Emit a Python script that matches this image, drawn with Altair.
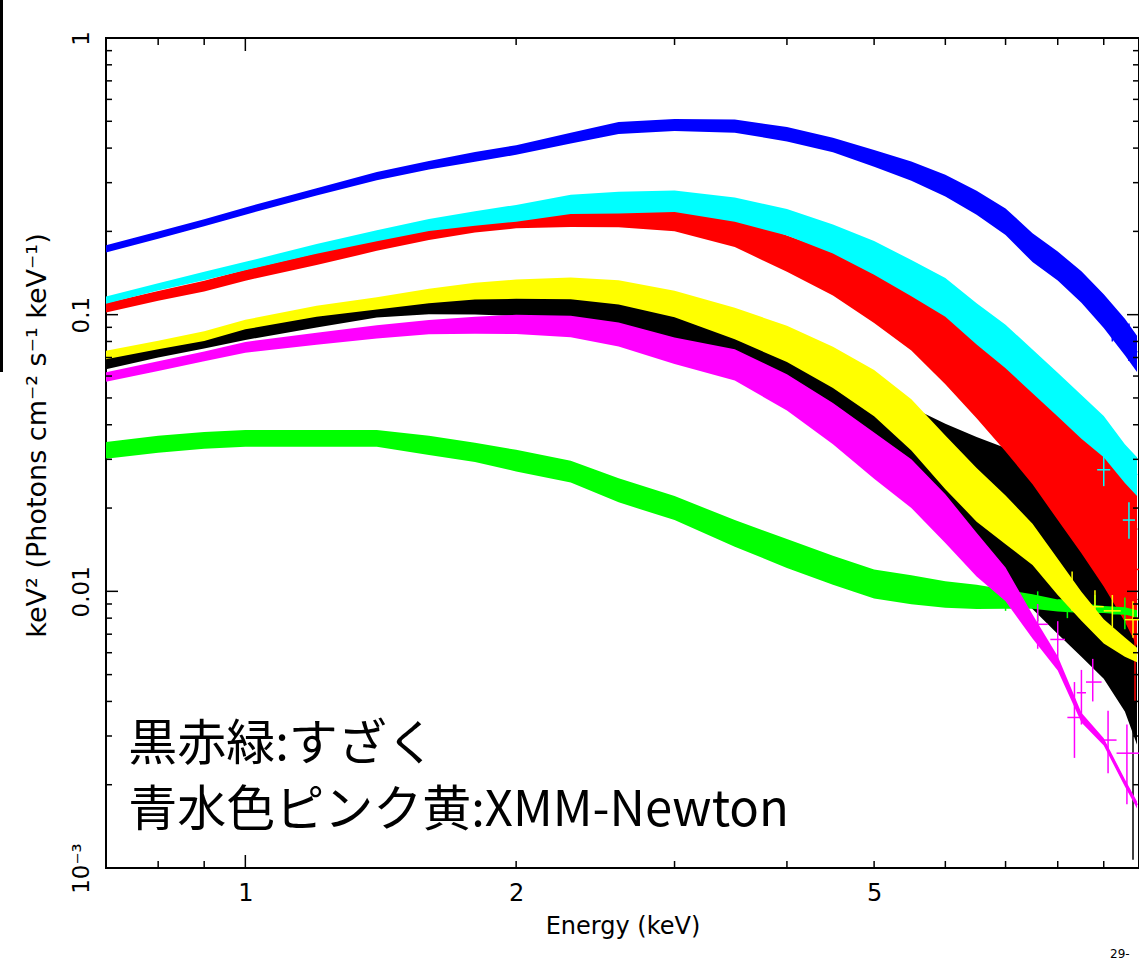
import altair as alt
import pandas as pd

# ---------------- data ----------------
ENERGY = [0.7, 0.8, 0.9, 1.0, 1.2, 1.4, 1.6, 1.8, 2.0, 2.3, 2.6, 3.0, 3.5,
          4.0, 4.5, 5.0, 5.5, 6.0, 6.5, 7.0, 7.5, 8.0, 8.5, 9.0, 9.5, 9.8]

BLACK_FLUX = [0.0675, 0.0745, 0.0802, 0.0862, 0.0957, 0.105, 0.109, 0.110, 0.110, 0.109, 0.103, 0.0914, 0.0802,
              0.0661, 0.0495, 0.0410, 0.0340, 0.0284, 0.0244, 0.0217, 0.0192, 0.0167, 0.0145, 0.0127, 0.0105, 0.0093]
BLACK_ERR = [0.06, 0.06, 0.06, 0.06, 0.06, 0.07, 0.08, 0.09, 0.10, 0.11, 0.12, 0.14, 0.17,
             0.20, 0.25, 0.30, 0.36, 0.42, 0.48, 0.52, 0.55, 0.58, 0.60, 0.62, 0.65, 0.70]

RED_FLUX = [0.106, 0.117, 0.127, 0.139, 0.159, 0.179, 0.198, 0.213, 0.223, 0.228, 0.230, 0.225, 0.202,
            0.168, 0.143, 0.118, 0.099, 0.080, 0.065, 0.0534, 0.0443, 0.0362, 0.0305, 0.0248, 0.0194, 0.0167]
RED_ERR = [0.04, 0.04, 0.045, 0.045, 0.05, 0.05, 0.06, 0.07, 0.08, 0.09, 0.10, 0.11, 0.13,
           0.15, 0.18, 0.21, 0.25, 0.30, 0.35, 0.40, 0.45, 0.50, 0.55, 0.58, 0.60, 0.62]

GREEN_FLUX = [0.0324, 0.0341, 0.0352, 0.0358, 0.0358, 0.0358, 0.0338, 0.0319, 0.0298, 0.0272, 0.0233, 0.0201, 0.0163,
              0.0138, 0.0120, 0.0107, 0.0102, 0.0098, 0.0096, 0.0094, 0.0092, 0.0089, 0.0087, 0.0086, 0.0085, 0.0083]
GREEN_ERR = [0.07, 0.07, 0.07, 0.07, 0.07, 0.07, 0.08, 0.08, 0.09, 0.09, 0.10, 0.10, 0.11,
             0.12, 0.12, 0.12, 0.12, 0.11, 0.10, 0.08, 0.06, 0.05, 0.04, 0.03, 0.03, 0.03]

BLUE_FLUX = [0.173, 0.194, 0.215, 0.237, 0.278, 0.317, 0.347, 0.372, 0.394, 0.435, 0.473, 0.485, 0.481,
             0.450, 0.411, 0.368, 0.331, 0.294, 0.255, 0.218, 0.176, 0.151, 0.127, 0.104, 0.084, 0.073]
BLUE_ERR = [0.03, 0.03, 0.03, 0.03, 0.03, 0.035, 0.035, 0.04, 0.04, 0.045, 0.05, 0.05, 0.055,
            0.06, 0.06, 0.07, 0.08, 0.09, 0.10, 0.11, 0.12, 0.12, 0.13, 0.14, 0.15, 0.15]

CYAN_FLUX = [0.113, 0.126, 0.138, 0.150, 0.173, 0.193, 0.211, 0.223, 0.233, 0.251, 0.255, 0.258, 0.241,
             0.217, 0.189, 0.162, 0.137, 0.117, 0.094, 0.078, 0.0634, 0.0523, 0.0434, 0.0368, 0.0293, 0.0263]
CYAN_ERR = [0.03, 0.03, 0.035, 0.035, 0.04, 0.045, 0.05, 0.06, 0.07, 0.08, 0.09, 0.09, 0.10,
            0.11, 0.12, 0.14, 0.15, 0.16, 0.17, 0.18, 0.18, 0.18, 0.18, 0.17, 0.16, 0.16]

MAGENTA_FLUX = [0.0596, 0.0652, 0.0707, 0.0763, 0.0820, 0.0868, 0.0903, 0.0918, 0.0925, 0.0910, 0.0852, 0.0745, 0.0664,
                0.0530, 0.0410, 0.0315, 0.0250, 0.0187, 0.0138, 0.0107, 0.0075, 0.0055, 0.0035, 0.00286, 0.00203, 0.00169]
MAGENTA_ERR = [0.04, 0.04, 0.04, 0.045, 0.05, 0.055, 0.06, 0.07, 0.08, 0.09, 0.10, 0.11, 0.13,
               0.15, 0.17, 0.19, 0.20, 0.20, 0.18, 0.14, 0.10, 0.06, 0.04, 0.03, 0.03, 0.03]

YELLOW_FLUX = [0.0715, 0.0777, 0.0837, 0.0922, 0.103, 0.110, 0.117, 0.122, 0.124, 0.125, 0.121, 0.110, 0.0937,
               0.0793, 0.0654, 0.0530, 0.0409, 0.0300, 0.0229, 0.0185, 0.0150, 0.0114, 0.0089, 0.0072, 0.0063, 0.0059]
YELLOW_ERR = [0.035, 0.035, 0.04, 0.04, 0.045, 0.05, 0.06, 0.07, 0.08, 0.09, 0.10, 0.11, 0.13,
              0.15, 0.17, 0.19, 0.21, 0.22, 0.22, 0.20, 0.17, 0.15, 0.12, 0.10, 0.08, 0.06]

# sparse high-energy bins (data crosses)
BLACK_TAIL_E = [9.4, 9.7]
BLACK_TAIL_V = [0.0093, 0.0067]
BLACK_TAIL_LO = [0.0045, 0.00107]
BLACK_TAIL_HI = [0.018, 0.0181]
BLACK_TAIL_ELO = [9.3, 9.6]
BLACK_TAIL_EHI = [9.5, 9.8]

RED_TAIL_E = [9.3, 9.75]
RED_TAIL_V = [0.021, 0.012]
RED_TAIL_LO = [0.011, 0.004]
RED_TAIL_HI = [0.036, 0.030]
RED_TAIL_ELO = [9.2, 9.65]
RED_TAIL_EHI = [9.4, 9.85]

GREEN_TAIL_E = [7.0, 7.6, 8.2, 8.8, 9.5]
GREEN_TAIL_V = [0.0097, 0.0088, 0.0093, 0.0085, 0.0083]
GREEN_TAIL_LO = [0.0085, 0.0078, 0.0080, 0.0074, 0.0073]
GREEN_TAIL_HI = [0.0110, 0.0100, 0.0106, 0.0097, 0.0095]
GREEN_TAIL_ELO = [6.85, 7.45, 8.0, 8.6, 9.2]
GREEN_TAIL_EHI = [7.15, 7.75, 8.4, 9.0, 9.8]

BLUE_TAIL_E = [9.2, 9.6]
BLUE_TAIL_V = [0.092, 0.080]
BLUE_TAIL_LO = [0.080, 0.068]
BLUE_TAIL_HI = [0.105, 0.093]
BLUE_TAIL_ELO = [9.1, 9.45]
BLUE_TAIL_EHI = [9.35, 9.75]

CYAN_TAIL_E = [9.0, 9.6]
CYAN_TAIL_V = [0.0275, 0.0181]
CYAN_TAIL_LO = [0.024, 0.0155]
CYAN_TAIL_HI = [0.031, 0.021]
CYAN_TAIL_ELO = [8.85, 9.45]
CYAN_TAIL_EHI = [9.15, 9.75]

MAGENTA_TAIL_E = [7.6, 8.0, 8.35, 8.5, 8.75, 9.1, 9.55]
MAGENTA_TAIL_V = [0.0076, 0.0067, 0.0035, 0.0043, 0.0047, 0.0029, 0.0026]
MAGENTA_TAIL_LO = [0.0062, 0.0057, 0.0025, 0.0033, 0.0040, 0.0022, 0.0017]
MAGENTA_TAIL_HI = [0.0090, 0.0078, 0.0047, 0.0052, 0.0057, 0.0037, 0.0033]
MAGENTA_TAIL_ELO = [7.45, 7.85, 8.2, 8.4, 8.6, 8.95, 9.3]
MAGENTA_TAIL_EHI = [7.8, 8.15, 8.5, 8.6, 8.95, 9.3, 9.85]

YELLOW_TAIL_E = [8.3, 8.8, 9.2, 9.7]
YELLOW_TAIL_V = [0.0101, 0.0088, 0.0085, 0.0079]
YELLOW_TAIL_LO = [0.0085, 0.0077, 0.0074, 0.0068]
YELLOW_TAIL_HI = [0.0118, 0.0101, 0.0097, 0.0092]
YELLOW_TAIL_ELO = [8.15, 8.6, 9.0, 9.5]
YELLOW_TAIL_EHI = [8.45, 9.0, 9.4, 9.85]

X_TICKS_MAJOR = [1.0]
X_TICKS_MINOR = [0.8, 0.9, 2, 3, 4, 5, 6, 7, 8, 9]
X_LABELS = [1, 2, 5]
Y_TICKS_MAJOR = [0.001, 0.01, 0.1, 1.0]
Y_TICKS_MINOR = [0.002, 0.003, 0.004, 0.005, 0.006, 0.007, 0.008, 0.009,
                 0.02, 0.03, 0.04, 0.05, 0.06, 0.07, 0.08, 0.09,
                 0.2, 0.3, 0.4, 0.5, 0.6, 0.7, 0.8, 0.9]

ANNOT_E = [0.741, 0.741]
ANNOT_V = [0.00246, 0.00142]
ANNOT_TEXT = ["黒赤緑:すざく", "青水色ピンク黄:XMM-Newton"]

# ---------------- chart ----------------
W, H = 1033, 830
FONT = "DejaVu Sans"

xscale = alt.Scale(type="log", domain=[0.7, 9.85], nice=False)
yscale = alt.Scale(type="log", domain=[0.001, 1], nice=False)

xaxis = alt.Axis(values=X_LABELS, format="~g", title="Energy (keV)",
                 labelFontSize=24, titleFontSize=24, labelPadding=13, titlePadding=9,
                 labelFlush=False, labelOverlap=False)
yaxis = alt.Axis(values=Y_TICKS_MAJOR, title="keV² (Photons cm⁻² s⁻¹ keV⁻¹)",
                 labelExpr="datum.value < 0.005 ? '10⁻³' : (datum.value > 0.5 ? '1' : (datum.value > 0.05 ? '0.1' : '0.01'))",
                 labelAngle=270, labelAlign="center", labelBaseline="alphabetic",
                 labelFontSize=23, labelPadding=18, labelFlush=False, labelOverlap=False,
                 titleFontSize=27, titleAngle=270, titleAlign="center", titleBaseline="alphabetic",
                 titleX=-61, titleY=397)


def X(f):
    return alt.X(f"{f}:Q", scale=xscale, axis=xaxis)


def Y(f):
    return alt.Y(f"{f}:Q", scale=yscale, axis=yaxis)


series = [
    ("#000000", BLACK_FLUX, BLACK_ERR, BLACK_TAIL_E, BLACK_TAIL_V, BLACK_TAIL_LO, BLACK_TAIL_HI, BLACK_TAIL_ELO, BLACK_TAIL_EHI),
    ("#ff0000", RED_FLUX, RED_ERR, RED_TAIL_E, RED_TAIL_V, RED_TAIL_LO, RED_TAIL_HI, RED_TAIL_ELO, RED_TAIL_EHI),
    ("#00ff00", GREEN_FLUX, GREEN_ERR, GREEN_TAIL_E, GREEN_TAIL_V, GREEN_TAIL_LO, GREEN_TAIL_HI, GREEN_TAIL_ELO, GREEN_TAIL_EHI),
    ("#0000ff", BLUE_FLUX, BLUE_ERR, BLUE_TAIL_E, BLUE_TAIL_V, BLUE_TAIL_LO, BLUE_TAIL_HI, BLUE_TAIL_ELO, BLUE_TAIL_EHI),
    ("#00ffff", CYAN_FLUX, CYAN_ERR, CYAN_TAIL_E, CYAN_TAIL_V, CYAN_TAIL_LO, CYAN_TAIL_HI, CYAN_TAIL_ELO, CYAN_TAIL_EHI),
    ("#ff00ff", MAGENTA_FLUX, MAGENTA_ERR, MAGENTA_TAIL_E, MAGENTA_TAIL_V, MAGENTA_TAIL_LO, MAGENTA_TAIL_HI, MAGENTA_TAIL_ELO, MAGENTA_TAIL_EHI),
    ("#ffff00", YELLOW_FLUX, YELLOW_ERR, YELLOW_TAIL_E, YELLOW_TAIL_V, YELLOW_TAIL_LO, YELLOW_TAIL_HI, YELLOW_TAIL_ELO, YELLOW_TAIL_EHI),
]

layers = []
for color, flux, err, te, tv, tlo, thi, telo, tehi in series:
    df = pd.DataFrame({"E": ENERGY, "F": flux, "e": err})
    band = alt.Chart(df).transform_calculate(
        lo="datum.F * (1 - datum.e)", hi="datum.F * (1 + datum.e)"
    ).mark_area(color=color, opacity=1, clip=True).encode(x=X("E"), y=Y("lo"), y2=alt.Y2("hi:Q"))
    model = alt.Chart(df).mark_line(color=color, strokeWidth=2, clip=True).encode(x=X("E"), y=Y("F"))
    tdf = pd.DataFrame({"E": te, "V": tv, "lo": tlo, "hi": thi, "elo": telo, "ehi": tehi})
    vbar = alt.Chart(tdf).mark_rule(color=color, strokeWidth=1.5, clip=True).encode(
        x=X("E"), y=Y("lo"), y2=alt.Y2("hi:Q"))
    hbar = alt.Chart(tdf).mark_rule(color=color, strokeWidth=1.5, clip=True).encode(
        x=X("elo"), x2=alt.X2("ehi:Q"), y=Y("V"))
    layers += [band, vbar, hbar, model]

# inward ticks on all four sides
xmaj = pd.DataFrame({"v": X_TICKS_MAJOR})
xmin = pd.DataFrame({"v": X_TICKS_MINOR})
ymaj = pd.DataFrame({"v": Y_TICKS_MAJOR})
ymin = pd.DataFrame({"v": Y_TICKS_MINOR})
tick_kw = dict(color="black", strokeWidth=1.5)
layers += [
    alt.Chart(xmaj).mark_rule(**tick_kw).encode(x=X("v"), y=alt.value(H), y2=alt.value(H - 13)),
    alt.Chart(xmin).mark_rule(**tick_kw).encode(x=X("v"), y=alt.value(H), y2=alt.value(H - 7)),
    alt.Chart(xmaj).mark_rule(**tick_kw).encode(x=X("v"), y=alt.value(0), y2=alt.value(13)),
    alt.Chart(xmin).mark_rule(**tick_kw).encode(x=X("v"), y=alt.value(0), y2=alt.value(7)),
    alt.Chart(ymaj).mark_rule(**tick_kw).encode(y=Y("v"), x=alt.value(0), x2=alt.value(12)),
    alt.Chart(ymin).mark_rule(**tick_kw).encode(y=Y("v"), x=alt.value(0), x2=alt.value(6)),
    alt.Chart(ymaj).mark_rule(**tick_kw).encode(y=Y("v"), x=alt.value(W), x2=alt.value(W - 12)),
    alt.Chart(ymin).mark_rule(**tick_kw).encode(y=Y("v"), x=alt.value(W), x2=alt.value(W - 6)),
]

annot = pd.DataFrame({"E": ANNOT_E, "V": ANNOT_V, "t": ANNOT_TEXT})
layers.append(
    alt.Chart(annot).mark_text(align="left", baseline="alphabetic", fontSize=49,
                               font="Noto Sans CJK JP", color="black").encode(
        x=X("E"), y=Y("V"), text="t:N")
)

# slide artefacts: black bar at far left, cut-off date stamp
layers.append(
    alt.Chart(xmaj).mark_rule(color="black", strokeWidth=3).encode(
        x=alt.value(-104.5), y=alt.value(-38), y2=alt.value(334))
)
layers.append(
    alt.Chart(xmaj).mark_text(align="left", baseline="alphabetic", fontSize=12, font=FONT,
                              color="black").encode(
        x=alt.value(1004), y=alt.value(920), text=alt.value("29-"))
)

chart = alt.layer(*layers).properties(
    width=W, height=H,
    autosize=alt.AutoSizeParams(type="none"),
    padding={"left": 106, "top": 38, "right": 0, "bottom": 93},
    background="white",
).configure_view(stroke="black", strokeWidth=2).configure_axis(
    grid=False, ticks=False, domain=False, labelFont=FONT, titleFont=FONT,
    labelColor="black", titleColor="black", titleFontWeight="normal"
)

chart.save("out.html", embed_options={"renderer": "svg", "actions": False})
